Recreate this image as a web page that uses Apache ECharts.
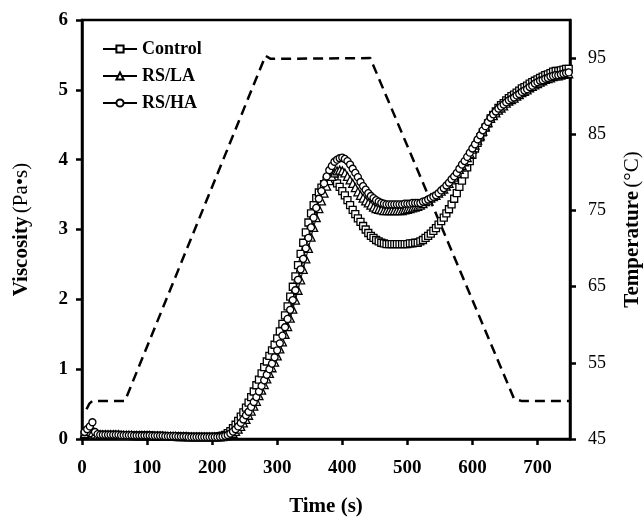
<!DOCTYPE html>
<html><head><meta charset="utf-8">
<script src="https://cdn.jsdelivr.net/npm/echarts@6/dist/echarts.min.js"></script>
<style>html,body{margin:0;padding:0;background:#fff}#c{width:643px;height:517px}</style>
</head><body><div id="c"></div>
<script>
const times = [
4,8,12,16,20,24,28,32,36,40,
44,48,52,56,60,64,68,72,76,80,
84,88,92,96,100,104,108,112,116,120,
124,128,132,136,140,144,148,152,156,160,
164,168,172,176,180,184,188,192,196,200,
204,208,212,216,220,224,228,232,236,240,
244,248,252,256,260,264,268,272,276,280,
284,288,292,296,300,304,308,312,316,320,
324,328,332,336,340,344,348,352,356,360,
364,368,372,376,380,384,388,392,396,400,
404,408,412,416,420,424,428,432,436,440,
444,448,452,456,460,464,468,472,476,480,
484,488,492,496,500,504,508,512,516,520,
524,528,532,536,540,544,548,552,556,560,
564,568,572,576,580,584,588,592,596,600,
604,608,612,616,620,624,628,632,636,640,
644,648,652,656,660,664,668,672,676,680,
684,688,692,696,700,704,708,712,716,720,
724,728,732,736,740,744,748];
const control = [
0.06,0.09,0.09,0.08,0.07,0.06,0.06,0.06,0.06,0.06,
0.06,0.06,0.06,0.06,0.055,0.055,0.055,0.055,0.055,0.05,
0.05,0.05,0.05,0.05,0.05,0.05,0.045,0.045,0.045,0.045,
0.045,0.04,0.04,0.04,0.04,0.04,0.035,0.035,0.035,0.035,
0.03,0.03,0.03,0.03,0.03,0.03,0.03,0.03,0.03,0.03,
0.03,0.033,0.04,0.048,0.06,0.084,0.114,0.154,0.204,0.26,
0.32,0.38,0.45,0.52,0.60,0.68,0.77,0.85,0.94,1.03,
1.11,1.19,1.27,1.35,1.44,1.54,1.65,1.77,1.90,2.04,
2.18,2.33,2.49,2.65,2.81,2.96,3.10,3.23,3.35,3.45,
3.53,3.60,3.65,3.70,3.72,3.72,3.70,3.66,3.61,3.55,
3.49,3.42,3.35,3.28,3.22,3.16,3.11,3.05,3.00,2.95,
2.91,2.88,2.85,2.83,2.81,2.80,2.79,2.79,2.79,2.79,
2.79,2.79,2.79,2.79,2.79,2.80,2.80,2.81,2.81,2.83,
2.85,2.88,2.91,2.94,2.98,3.02,3.07,3.12,3.17,3.23,
3.29,3.36,3.44,3.52,3.61,3.70,3.79,3.89,3.98,4.07,
4.16,4.24,4.32,4.39,4.46,4.52,4.59,4.64,4.69,4.74,
4.78,4.81,4.85,4.88,4.91,4.93,4.96,4.99,5.02,5.04,
5.06,5.09,5.11,5.13,5.15,5.17,5.19,5.21,5.22,5.24,
5.26,5.27,5.27,5.28,5.29,5.30,5.30];
const rsLA = [
0.08,0.11,0.11,0.09,0.07,0.06,0.06,0.06,0.06,0.06,
0.06,0.06,0.06,0.06,0.055,0.055,0.055,0.055,0.055,0.05,
0.05,0.05,0.05,0.05,0.05,0.05,0.045,0.045,0.045,0.045,
0.045,0.04,0.04,0.04,0.04,0.04,0.035,0.035,0.035,0.035,
0.03,0.03,0.03,0.03,0.03,0.03,0.03,0.03,0.03,0.03,
0.03,0.03,0.032,0.036,0.04,0.048,0.062,0.082,0.108,0.14,
0.18,0.23,0.28,0.34,0.40,0.47,0.54,0.62,0.70,0.78,
0.86,0.94,1.02,1.10,1.19,1.29,1.39,1.50,1.61,1.73,
1.86,1.99,2.13,2.28,2.43,2.58,2.73,2.89,3.03,3.17,
3.30,3.41,3.52,3.62,3.70,3.76,3.81,3.84,3.85,3.84,
3.81,3.76,3.71,3.66,3.60,3.54,3.49,3.45,3.41,3.38,
3.35,3.32,3.30,3.29,3.28,3.27,3.27,3.27,3.27,3.27,
3.27,3.27,3.27,3.28,3.29,3.30,3.31,3.32,3.33,3.35,
3.37,3.40,3.42,3.45,3.47,3.49,3.52,3.55,3.58,3.62,
3.66,3.71,3.75,3.80,3.86,3.92,3.97,4.03,4.09,4.15,
4.21,4.28,4.34,4.41,4.47,4.53,4.59,4.63,4.67,4.71,
4.74,4.77,4.81,4.84,4.86,4.88,4.91,4.93,4.96,4.98,
5.00,5.03,5.05,5.07,5.09,5.11,5.13,5.15,5.16,5.17,
5.19,5.20,5.20,5.21,5.22,5.23,5.23];
const rsHA = [
0.10,0.14,0.18,0.24,0.10,0.07,0.06,0.06,0.06,0.06,
0.06,0.06,0.06,0.06,0.055,0.055,0.055,0.055,0.055,0.05,
0.05,0.05,0.05,0.05,0.05,0.05,0.045,0.045,0.045,0.045,
0.045,0.04,0.04,0.04,0.04,0.04,0.035,0.035,0.035,0.035,
0.03,0.03,0.03,0.03,0.03,0.03,0.03,0.03,0.03,0.03,
0.03,0.03,0.032,0.037,0.045,0.057,0.078,0.106,0.14,0.18,
0.23,0.28,0.34,0.39,0.46,0.53,0.60,0.68,0.76,0.84,
0.92,1.00,1.08,1.17,1.27,1.37,1.48,1.60,1.72,1.85,
1.99,2.13,2.28,2.43,2.58,2.73,2.88,3.03,3.17,3.31,
3.44,3.55,3.66,3.76,3.85,3.91,3.97,4.00,4.02,4.03,
4.01,3.98,3.93,3.87,3.81,3.75,3.68,3.62,3.57,3.52,
3.48,3.45,3.42,3.40,3.38,3.37,3.36,3.36,3.36,3.36,
3.36,3.36,3.36,3.37,3.37,3.37,3.38,3.38,3.38,3.38,
3.40,3.41,3.43,3.45,3.47,3.49,3.52,3.56,3.59,3.63,
3.67,3.72,3.76,3.81,3.87,3.93,3.98,4.04,4.10,4.16,
4.22,4.29,4.35,4.42,4.48,4.54,4.60,4.65,4.69,4.73,
4.76,4.79,4.82,4.85,4.87,4.89,4.92,4.94,4.97,4.99,
5.01,5.04,5.06,5.09,5.11,5.13,5.14,5.16,5.17,5.19,
5.20,5.21,5.21,5.22,5.23,5.24,5.25];
const tempTimes = [7, 11, 16, 66, 282, 290, 443, 664, 675, 750];
const tempValues = [48.9, 49.6, 50, 50, 95.3, 94.9, 95, 50.3, 50, 50];
const xTicks = [0,100,200,300,400,500,600,700];
const yLeftTicks = [0,1,2,3,4,5,6];
const yRightTicks = [45,55,65,75,85,95];
const seriesNames = ['Control','RS/LA','RS/HA'];

const FONT = 'Liberation Serif, Times New Roman, serif';
const pairs = (xs, ys) => xs.map((x, i) => [x, ys[i]]);

const chart = echarts.init(document.getElementById('c'), null, {renderer:'canvas'});
const markerSeries = (name, vals, symbol, size) => ({
  name, type:'line', data: pairs(times, vals), yAxisIndex:0,
  symbol, symbolSize:size, showAllSymbol:true,
  lineStyle:{color:'#000', width:1},
  itemStyle:{color:'#fff', borderColor:'#000', borderWidth:1.3},
  emphasis:{disabled:true}, animation:false, z:3
});
chart.setOption({
  animation:false,
  backgroundColor:'#fff',
  grid:{left:82, right:73, top:20, bottom:78, containLabel:false, outerBoundsMode:'none',
        show:true, borderColor:'#000', borderWidth:2.5, backgroundColor:'transparent'},
  legend:{
    data: seriesNames, orient:'vertical', left:97, top:35, itemGap:9,
    itemWidth:34, itemHeight:9,
    textStyle:{fontFamily:FONT, fontWeight:'bold', fontSize:18, color:'#000', lineHeight:18}
  },
  xAxis:{
    type:'value', min:0, max:750, interval:100,
    axisLine:{lineStyle:{color:'#000', width:2.5}},
    axisTick:{show:true, inside:false, length:6, lineStyle:{color:'#000', width:2.5}, customValues:xTicks},
    axisLabel:{customValues:xTicks, fontFamily:FONT, fontWeight:'bold', fontSize:19, color:'#000', margin:20},
    splitLine:{show:false},
    name:'Time (s)', nameLocation:'middle', nameGap:57,
    nameTextStyle:{fontFamily:FONT, fontWeight:'bold', fontSize:21, color:'#000'}
  },
  yAxis:[{
    type:'value', min:0, max:6, interval:1,
    axisLine:{show:true, lineStyle:{color:'#000', width:2.5}},
    axisTick:{show:true, inside:false, length:6, lineStyle:{color:'#000', width:2.5}, customValues:yLeftTicks},
    axisLabel:{customValues:yLeftTicks, fontFamily:FONT, fontWeight:'bold', fontSize:19, color:'#000', margin:14},
    splitLine:{show:false},
    name:'{b|Viscosity} {n|(Pa•s)}', nameLocation:'middle', nameGap:50, nameRotate:90,
    nameTextStyle:{rich:{
      b:{fontFamily:FONT, fontWeight:'bold', fontSize:21, color:'#000'},
      n:{fontFamily:FONT, fontWeight:'normal', fontSize:21, color:'#000'}}}
  },{
    type:'value', position:'right', min:45, max:100, interval:10,
    axisLine:{show:true, lineStyle:{color:'#000', width:2.5}},
    axisTick:{show:true, inside:false, length:6, lineStyle:{color:'#000', width:2.5}, customValues:yRightTicks},
    axisLabel:{customValues:yRightTicks, fontFamily:FONT, fontWeight:'normal', fontSize:18, color:'#000', margin:18},
    splitLine:{show:false},
    name:'{b|Temperature} {n|(°C)}', nameLocation:'middle', nameGap:52, nameRotate:90,
    nameTextStyle:{rich:{
      b:{fontFamily:FONT, fontWeight:'bold', fontSize:21, color:'#000'},
      n:{fontFamily:FONT, fontWeight:'normal', fontSize:21, color:'#000'}}}
  }],
  series:[
    {name:'Temperature', type:'line', yAxisIndex:1, data: pairs(tempTimes, tempValues),
     symbol:'none', lineStyle:{color:'#000', width:2.5, type:[10,6]}, z:2, silent:true},
    markerSeries('Control', control, 'rect', 7),
    markerSeries('RS/LA', rsLA, 'triangle', 8),
    markerSeries('RS/HA', rsHA, 'circle', 7)
  ]
});
</script></body></html>
